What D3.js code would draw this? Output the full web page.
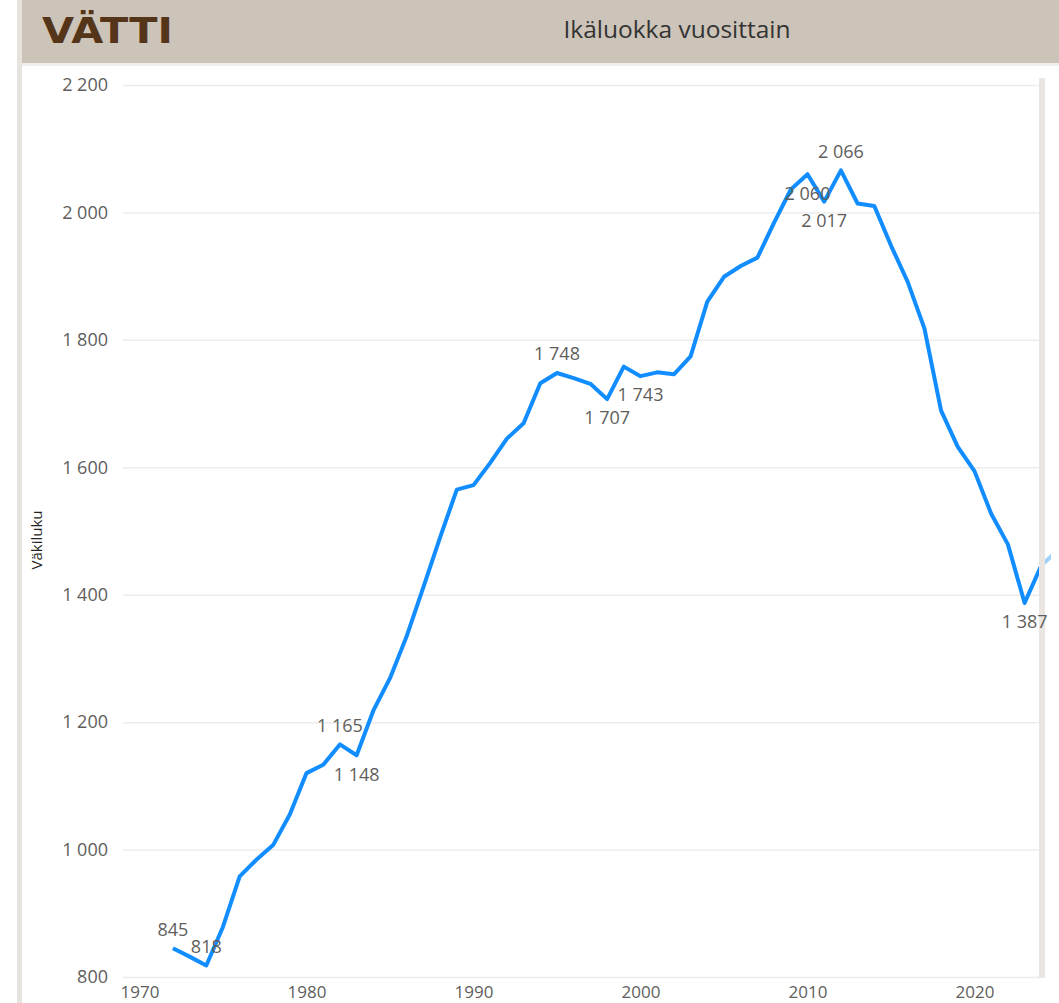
<!DOCTYPE html>
<html>
<head>
<meta charset="utf-8">
<script src="https://cdn.jsdelivr.net/npm/d3@7/dist/d3.min.js"></script>
<style>
  html, body { margin: 0; padding: 0; background: #ffffff; }
  svg { display: block; }
  text { font-family: "Open Sans", "Segoe UI", sans-serif; }
</style>
</head>
<body>
<svg id="chart" width="1059" height="1003"></svg>
<script>
const titleText = "Ikäluokka vuosittain";
const logoText = "VÄTTI";
const yAxisTitle = "Väkiluku";

const years = [1972,1973,1974,1975,1976,1977,1978,1979,1980,1981,1982,1983,1984,1985,1986,1987,1988,1989,1990,1991,1992,1993,1994,1995,1996,1997,1998,1999,2000,2001,2002,2003,2004,2005,2006,2007,2008,2009,2010,2011,2012,2013,2014,2015,2016,2017,2018,2019,2020,2021,2022,2023,2024,2025];
const population = [845,832,818,879,958,984,1007,1055,1120,1133,1165,1148,1218,1269,1335,1412,1490,1565,1572,1607,1645,1669,1732,1748,1740,1731,1707,1758,1743,1749,1746,1774,1860,1899,1916,1929,1984,2036,2060,2017,2066,2014,2010,1948,1891,1818,1689,1632,1594,1527,1479,1387,1446,1470];

const labelYears = [1972,1974,1982,1983,1995,1998,2000,2010,2011,2012,2023];
const labelSides = ["above","above","above","below","above","below","below","below","below","above","below"];

const xTicks = [1970,1980,1990,2000,2010,2020];
const yTicks = [800,1000,1200,1400,1600,1800,2000,2200];

const data = years.map((y, i) => ({ year: y, value: population[i] }));

const svg = d3.select("#chart");
const W = 1059, H = 1003;

const fmt = d3.formatLocale({ decimal: ",", thousands: " ", grouping: [3], currency: ["", "€"] }).format(",d");

const x = d3.scaleLinear().domain([1970, 2020]).range([139.5, 974.5]);
const y = d3.scaleLinear().domain([800, 2200]).range([977, 85]);

const plotLeft = 123, plotRight = 1040;

// left decorative bar
svg.append("rect").attr("x", 17).attr("y", 0).attr("width", 5).attr("height", H).attr("fill", "#e6e2de");

// header
svg.append("rect").attr("x", 22).attr("y", 0).attr("width", W - 22).attr("height", 63).attr("fill", "#cdc4b9");
svg.append("rect").attr("x", 22).attr("y", 63).attr("width", W - 22).attr("height", 3).attr("fill", "#f1eeeb");

svg.append("text")
  .attr("x", 42).attr("y", 43)
  .attr("textLength", 131).attr("lengthAdjust", "spacingAndGlyphs")
  .style("font-family", "'DejaVu Sans', sans-serif")
  .style("font-weight", "bold")
  .style("font-size", "35px")
  .attr("fill", "#55351a")
  .text(logoText);

svg.append("text")
  .attr("x", 677).attr("y", 38)
  .attr("text-anchor", "middle")
  .style("font-size", "24.5px")
  .attr("fill", "#333333")
  .text(titleText);

// y axis with gridlines
const yAxis = d3.axisLeft(y)
  .tickValues(yTicks)
  .tickSize(-(plotRight - plotLeft))
  .tickPadding(15)
  .tickFormat(fmt);

const gy = svg.append("g").attr("transform", `translate(${plotLeft},0)`).call(yAxis);
gy.select(".domain").remove();
gy.selectAll(".tick line").attr("stroke", "#ececec").attr("stroke-width", 1.5);
gy.selectAll(".tick text").attr("fill", "#605e5c").style("font-size", "18px").style("font-family", "'Open Sans', sans-serif");

// x axis
const xAxis = d3.axisBottom(x)
  .tickValues(xTicks)
  .tickSize(0)
  .tickPadding(9)
  .tickFormat(d3.format("d"));
const gx = svg.append("g").attr("transform", `translate(0,977)`).call(xAxis);
gx.select(".domain").remove();
gx.selectAll(".tick text").attr("fill", "#605e5c").style("font-size", "17px").style("font-family", "'Open Sans', sans-serif");

// y axis title
svg.append("text")
  .attr("transform", "translate(42,540) rotate(-90)")
  .attr("text-anchor", "middle")
  .style("font-size", "15px")
  .attr("fill", "#252423")
  .text(yAxisTitle);

// clip
svg.append("clipPath").attr("id", "clip")
  .append("rect").attr("x", 0).attr("y", 66).attr("width", 1051).attr("height", H - 66);

const line = d3.line().x(d => x(d.year)).y(d => y(d.value));

svg.append("path")
  .datum(data)
  .attr("clip-path", "url(#clip)")
  .attr("fill", "none")
  .attr("stroke", "#118dff")
  .attr("stroke-width", 4)
  .attr("stroke-linejoin", "round")
  .attr("stroke-linecap", "butt")
  .attr("d", line);

// right scroll bar and faded overflow
svg.append("rect").attr("x", 1045).attr("y", 66).attr("width", W - 1045).attr("height", H - 66).attr("fill", "#ffffff").attr("opacity", 0.6);
svg.append("rect").attr("x", 1039).attr("y", 78).attr("width", 6).attr("height", 900).attr("fill", "#e9e5e1");

// data labels
const labels = labelYears.map((yr, i) => {
  const d = data.find(e => e.year === yr);
  return { year: yr, value: d.value, side: labelSides[i] };
});

svg.append("g").selectAll("text")
  .data(labels)
  .join("text")
  .attr("x", d => x(d.year))
  .attr("y", d => d.side === "above" ? y(d.value) - 19 : y(d.value) + 19)
  .attr("dy", "0.35em")
  .attr("text-anchor", "middle")
  .style("font-size", "18px")
  .attr("fill", "#605e5c")
  .text(d => fmt(d.value));
</script>
</body>
</html>
